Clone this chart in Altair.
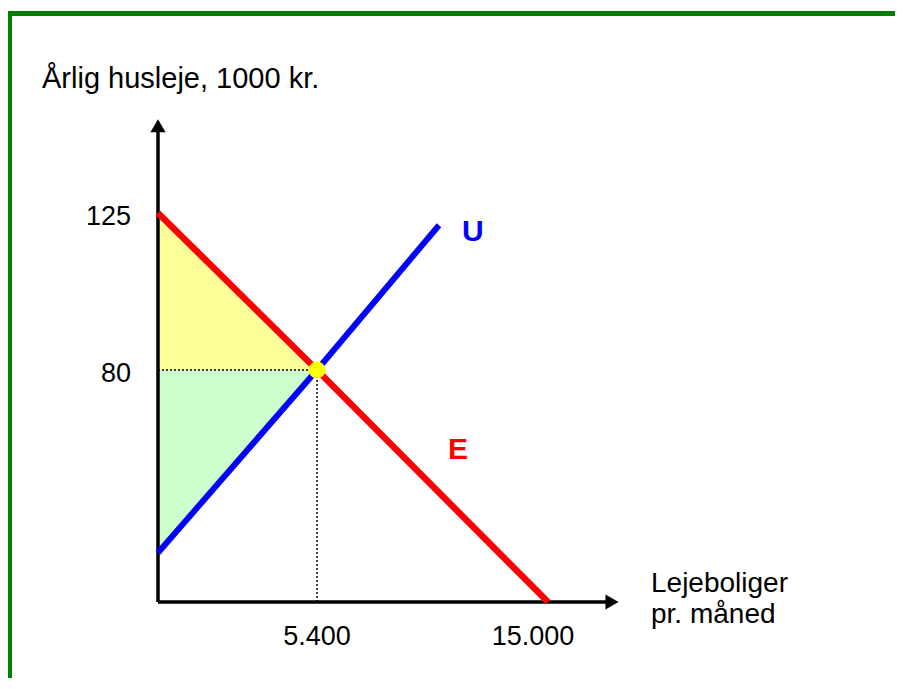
import altair as alt
import pandas as pd

# ---- data ----
demand_q = [0, 5400, 15000]
demand_p = [125, 80, 0]
supply_q = [0, 5400, 10470]
supply_p = [17, 80, 121.5]
eq_q = [5400]
eq_p = [80]
x_ticks = [5400, 15000]
x_tick_labels = ["5.400", "15.000"]
y_ticks = [125, 80]
y_tick_labels = ["125", "80"]
x_axis_end = 17660
y_axis_end = 150

FONT = "Liberation Sans"
FS = 27
W, H = 887, 670

xs = alt.Scale(domain=[0, 5400, 15000], range=[150, 309, 540], nice=False, zero=False)
ys = alt.Scale(domain=[0, 80, 125], range=[594, 362, 205], nice=False, zero=False)

def X(field="x"):
    return alt.X(f"{field}:Q", scale=xs, axis=None)

def Y(field="y"):
    return alt.Y(f"{field}:Q", scale=ys, axis=None)

demand = pd.DataFrame({"x": demand_q, "y": demand_p})
supply = pd.DataFrame({"x": supply_q, "y": supply_p})
eq = pd.DataFrame({"x": eq_q, "y": eq_p})

# consumer surplus (yellow) and producer surplus (green)
cs = pd.DataFrame({"x": [0, eq_q[0]], "y": [demand_p[0], eq_p[0]], "y2": [eq_p[0], eq_p[0]]})
ps = pd.DataFrame({"x": [0, eq_q[0]], "y": [eq_p[0], eq_p[0]], "y2": [supply_p[0], eq_p[0]]})

cs_area = alt.Chart(cs).mark_area(color="#FFFF99", opacity=1).encode(
    x=X(), y=Y(), y2="y2:Q")
ps_area = alt.Chart(ps).mark_area(color="#CCFFCC", opacity=1).encode(
    x=X(), y=Y(), y2="y2:Q")

guides = pd.DataFrame({"x": [0, eq_q[0]], "x2": [eq_q[0], eq_q[0]],
                       "y": [eq_p[0], 0], "y2": [eq_p[0], eq_p[0]]})
dotted = alt.Chart(guides).mark_rule(color="black", strokeWidth=1.5, strokeDash=[2, 2]).encode(
    x=X(), x2="x2:Q", y=Y(), y2="y2:Q")

axes_df = pd.DataFrame({"x": [0, 0], "x2": [x_axis_end, 0], "y": [0, 0], "y2": [0, y_axis_end]})
axes = alt.Chart(axes_df).mark_rule(color="black", strokeWidth=3.5).encode(
    x=X(), x2="x2:Q", y=Y(), y2="y2:Q")

arr_x = alt.Chart(pd.DataFrame({"x": [x_axis_end], "y": [0]})).mark_point(
    shape="triangle-right", filled=True, color="black", size=230, opacity=1).encode(x=X(), y=Y())
arr_y = alt.Chart(pd.DataFrame({"x": [0], "y": [y_axis_end]})).mark_point(
    shape="triangle-up", filled=True, color="black", size=230, opacity=1).encode(x=X(), y=Y())

supply_line = alt.Chart(supply).mark_line(color="#0000FF", strokeWidth=6, strokeCap="butt").encode(
    x=X(), y=Y())
demand_line = alt.Chart(demand).mark_line(color="#FF0000", strokeWidth=6.5, strokeCap="butt").encode(
    x=X(), y=Y())
eq_dot = alt.Chart(eq).mark_circle(color="#FFFF00", size=290, opacity=1).encode(x=X(), y=Y())

ytl = pd.DataFrame({"y": y_ticks, "label": y_tick_labels, "x": [0, 0]})
y_labels = alt.Chart(ytl).mark_text(font=FONT, fontSize=FS, align="right", baseline="middle",
                                    dx=-27, dy=4, color="black").encode(
    x=X(), y=Y(), text="label:N")

x_lab1 = alt.Chart(pd.DataFrame({"x": [x_ticks[0]], "y": [0], "label": [x_tick_labels[0]]})).mark_text(
    font=FONT, fontSize=FS, align="center", baseline="middle", dy=35, color="black").encode(
    x=X(), y=Y(), text="label:N")
x_lab2 = alt.Chart(pd.DataFrame({"x": [x_ticks[1]], "y": [0], "label": [x_tick_labels[1]]})).mark_text(
    font=FONT, fontSize=FS, align="center", baseline="middle", dx=-15, dy=35, color="black").encode(
    x=X(), y=Y(), text="label:N")

def ann(text, px, py, **kw):
    return alt.Chart(pd.DataFrame({"t": [text]})).mark_text(
        font=FONT, align="left", baseline="alphabetic", **kw).encode(
        x=alt.value(px), y=alt.value(py), text="t:N")

title = ann("Årlig husleje, 1000 kr.", 34, 80, fontSize=29, color="black")
xt1 = ann("Lejeboliger", 643, 584, fontSize=28, color="black")
xt2 = ann("pr. måned", 643, 615, fontSize=28, color="black")
u_lab = ann("U", 454, 233, fontSize=30, fontWeight="bold", color="#0000FF")
e_lab = ann("E", 440, 451, fontSize=30, fontWeight="bold", color="#FF0000")

border_top = alt.Chart(pd.DataFrame({"a": [0]})).mark_rule(color="#008000", strokeWidth=5).encode(
    x=alt.value(0), x2=alt.value(W), y=alt.value(5.5))
border_left = alt.Chart(pd.DataFrame({"a": [0]})).mark_rule(color="#008000", strokeWidth=5).encode(
    x=alt.value(1.5), y=alt.value(3), y2=alt.value(H))

chart = alt.layer(
    cs_area, ps_area, dotted, axes, arr_x, arr_y, supply_line, demand_line, eq_dot,
    y_labels, x_lab1, x_lab2, title, xt1, xt2, u_lab, e_lab, border_top, border_left
).properties(
    width=W, height=H, padding=0, autosize=alt.AutoSizeParams(type="none"),
    background="white"
).configure_view(stroke=None)

chart.save("out.html", embed_options={"renderer": "svg", "actions": False})
